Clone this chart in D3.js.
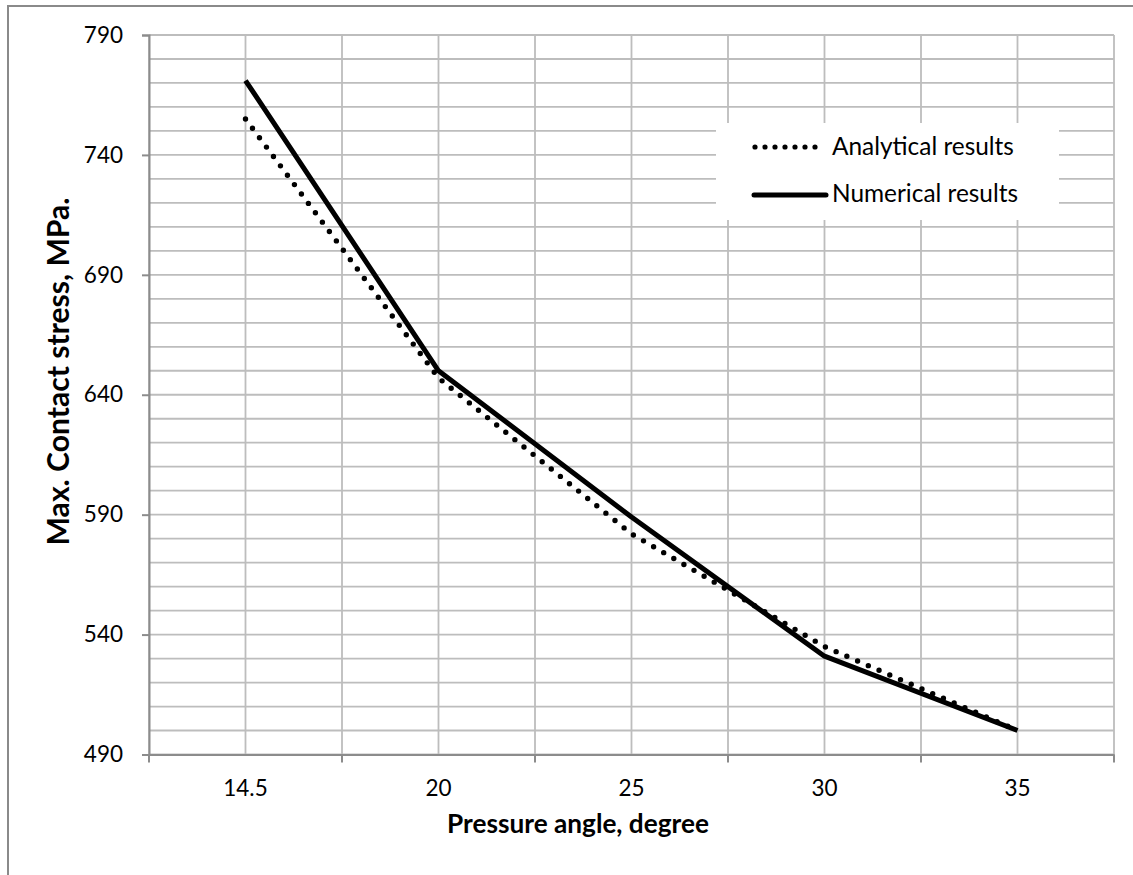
<!DOCTYPE html>
<html>
<head>
<meta charset="utf-8">
<script src="https://cdn.jsdelivr.net/npm/d3@7/dist/d3.min.js"></script>
<style>
  html, body { margin: 0; padding: 0; background: #fff; }
  svg { display: block; }
  text { font-family: Lato, "Open Sans", sans-serif; fill: #000; }
</style>
</head>
<body>
<svg id="chart" width="1133" height="875"></svg>
<script>
// ---- data ----
const categories = ["14.5", "20", "25", "30", "35"];
const analytical = [755, 647, 582, 535, 500];
const numerical  = [771, 650, 589, 531, 500];
const yTicks = [490, 540, 590, 640, 690, 740, 790];
const yMinorStep = 10;
const seriesNames = ["Analytical results", "Numerical results"];
const xTitle = "Pressure angle, degree";
const yTitle = "Max. Contact stress, MPa.";

// ---- layout ----
const W = 1133, H = 875;
const plot = { left: 149, right: 1114, top: 35, bottom: 754.5 };
const gridColor = "#bdbdbd";
const axisColor = "#8c8c8c";

const svg = d3.select("#chart");

// outer chart border (only top/left visible in the crop)
svg.append("rect").attr("x", 8).attr("y", 6).attr("width", 1400).attr("height", 1200)
  .attr("fill", "#fff").attr("stroke", "#8a8a8a").attr("stroke-width", 2);

const x = d3.scaleBand().domain(categories).range([plot.left, plot.right]).padding(0);
const xc = c => x(c) + x.bandwidth() / 2;
const y = d3.scaleLinear().domain([yTicks[0], yTicks[yTicks.length - 1]]).range([plot.bottom, plot.top]);

// horizontal gridlines (major + minor)
const hLines = d3.range(yTicks[0], yTicks[yTicks.length - 1] + 0.001, yMinorStep);
svg.append("g").selectAll("line").data(hLines).join("line")
  .attr("x1", plot.left).attr("x2", plot.right)
  .attr("y1", d => y(d)).attr("y2", d => y(d))
  .attr("stroke", gridColor).attr("stroke-width", 1.8);

// vertical gridlines at category boundaries and centers
const vPos = [];
categories.forEach(c => { vPos.push(x(c)); vPos.push(xc(c)); });
vPos.push(plot.right);
svg.append("g").selectAll("line").data(vPos).join("line")
  .attr("x1", d => d).attr("x2", d => d)
  .attr("y1", plot.top).attr("y2", plot.bottom)
  .attr("stroke", gridColor).attr("stroke-width", 1.8);

// y axis
const yAxis = d3.axisLeft(y).tickValues(yTicks).tickSize(7).tickPadding(19).tickFormat(d3.format("d"));
const gy = svg.append("g").attr("transform", `translate(${plot.left},0)`).call(yAxis);
gy.select(".domain").attr("stroke", axisColor).attr("stroke-width", 2);
gy.selectAll(".tick line").attr("stroke", axisColor).attr("stroke-width", 2);
gy.selectAll(".tick text").attr("font-size", 22.5).attr("font-family", "Lato").attr("fill", "#000");

// x axis: labels at centers, ticks at boundaries
const xAxis = d3.axisBottom(x).tickSize(0).tickPadding(26).tickSizeOuter(0);
const gx = svg.append("g").attr("transform", `translate(0,${plot.bottom})`).call(xAxis);
gx.select(".domain").attr("stroke", axisColor).attr("stroke-width", 2);
gx.selectAll(".tick text").attr("font-size", 22.5).attr("font-family", "Lato").attr("fill", "#000");
const bounds = categories.map(c => x(c)).concat([plot.right]);
svg.append("g").selectAll("line").data(bounds).join("line")
  .attr("x1", d => d).attr("x2", d => d)
  .attr("y1", plot.bottom).attr("y2", plot.bottom + 8)
  .attr("stroke", axisColor).attr("stroke-width", 2);

// series lines
const line = d3.line().x((d, i) => xc(categories[i])).y(d => y(d));
svg.append("path").datum(analytical).attr("d", line)
  .attr("fill", "none").attr("stroke", "#000").attr("stroke-width", 5.4)
  .attr("stroke-linecap", "round").attr("stroke-dasharray", "0 11.7");
svg.append("path").datum(numerical).attr("d", line)
  .attr("fill", "none").attr("stroke", "#000").attr("stroke-width", 5)
  .attr("stroke-linejoin", "round");

// legend
const lg = svg.append("g");
lg.append("rect").attr("x", 716).attr("y", 123).attr("width", 343).attr("height", 97).attr("fill", "#fff");
lg.append("line").attr("x1", 755).attr("x2", 816).attr("y1", 147).attr("y2", 147)
  .attr("stroke", "#000").attr("stroke-width", 5.2).attr("stroke-linecap", "round").attr("stroke-dasharray", "0 10");
lg.append("line").attr("x1", 754).attr("x2", 826).attr("y1", 195).attr("y2", 195)
  .attr("stroke", "#000").attr("stroke-width", 5).attr("stroke-linecap", "round");
const fitText = (sel, target) => {
  const w = sel.node().getComputedTextLength();
  const fs = parseFloat(sel.attr("font-size"));
  if (w > 0) sel.attr("font-size", fs * target / w);
};
const t1 = lg.append("text").attr("x", 832).attr("y", 155).attr("font-size", 22).text(seriesNames[0]);
const t2 = lg.append("text").attr("x", 832).attr("y", 202).attr("font-size", 22).text(seriesNames[1]);
fitText(t1, 182);
t2.attr("font-size", t1.attr("font-size"));

// axis titles
const xt = svg.append("text").attr("x", 578).attr("y", 833).attr("text-anchor", "middle")
  .attr("font-weight", "bold").attr("font-size", 24).text(xTitle);
fitText(xt, 262);
const yt = svg.append("text").attr("transform", "translate(69,371.5) rotate(-90)").attr("text-anchor", "middle")
  .attr("font-weight", "bold").attr("font-size", 24).text(yTitle);
fitText(yt, 348);
</script>
</body>
</html>
